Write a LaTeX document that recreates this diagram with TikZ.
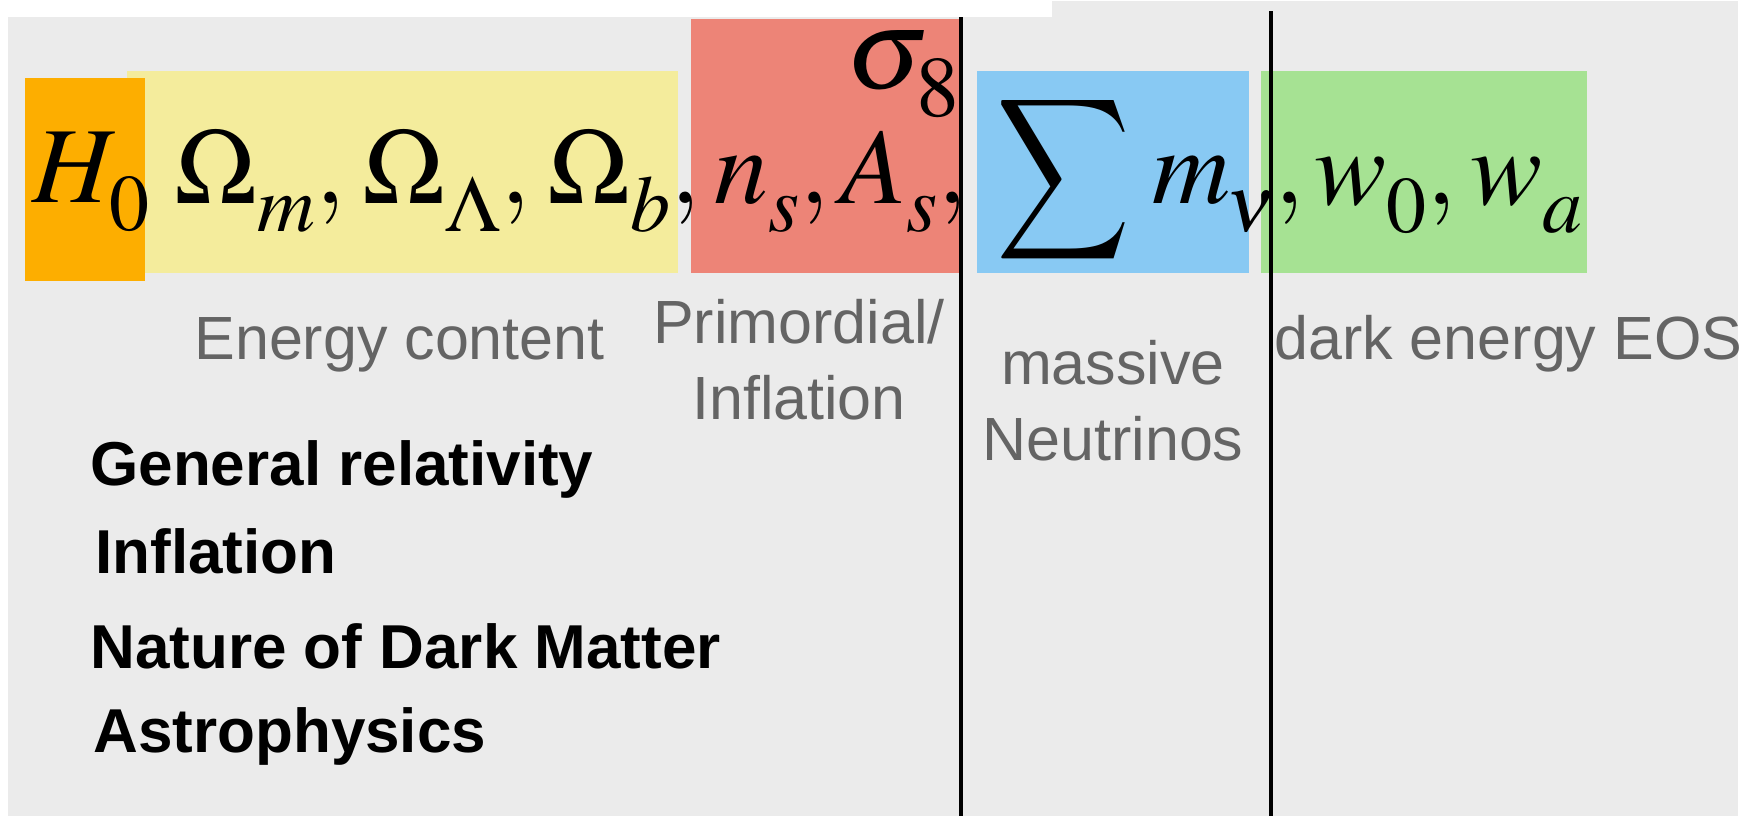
\documentclass[tikz,border=0pt]{standalone}
\usepackage{mathptmx}
\usepackage[no-math]{fontspec}
\usepackage{graphicx}
\newfontfamily\labelfont{Liberation Sans}

\definecolor{bgGray}{HTML}{EBEBEB}
\definecolor{hubbleOrange}{HTML}{FDAE00}
\definecolor{energyYellow}{HTML}{F4EC9C}
\definecolor{primRed}{HTML}{ED8477}
\definecolor{nuBlue}{HTML}{88C9F3}
\definecolor{deGreen}{HTML}{A6E293}
\definecolor{labelGray}{HTML}{646464}

% subscript set lower than TeX puts it
\newcommand{\lowsub}[1]{\raisebox{-14pt}{$\scriptstyle #1$}}

\begin{document}
\begin{tikzpicture}[x=0.5pt,y=-0.5pt,
    param/.style={anchor=base west, inner sep=0pt, font=\fontsize{54}{60}\selectfont},
    grouplabel/.style={inner sep=0pt, align=center, text=labelGray, font=\labelfont\fontsize{30.5}{38}\selectfont},
    topic/.style={anchor=base west, inner sep=0pt, font=\labelfont\bfseries\fontsize{31}{38}\selectfont}]
    \useasboundingbox (0,0) rectangle (1747,816);

    % Background
    \fill[bgGray] (8,17) rectangle (1738,816);
    \fill[bgGray] (1052,1) rectangle (1738,17);

    % Parameter groups
    \fill[energyYellow] (127,71) rectangle (678,273);
    \fill[primRed] (691,19) rectangle (959,273);
    \fill[nuBlue] (977,71) rectangle (1249,273);
    \fill[deGreen] (1261,71) rectangle (1587,273);
    \fill[hubbleOrange] (25,78) rectangle (145,281);

    % Dividers
    \draw[line width=2pt] (960.5,17) -- (960.5,816);
    \draw[line width=2pt] (1270.5,11) -- (1270.5,816);

    % Parameters
    \node[param] (hubble) at (32,202) {$H\kern-4pt\lowsub{0}$};
    \node[param] (omegam) at (174,203) {$\Omega\lowsub{m},$};
    \node[param] (omegal) at (362,203) {$\Omega\lowsub{\Lambda},$};
    \node[param] (omegab) at (547,203) {$\Omega\lowsub{b},$};
    \node[param] (nsind) at (714,203) {$n\lowsub{s},$};
    \node[param] (ampl) at (840,203) {$A\lowsub{s},$};
    \node[param, font=\fontsize{58}{60}\selectfont] (sigma) at (846,88) {$\sigma\kern-6pt\lowsub{8}$};
    \node[inner sep=0pt] (nusum) at (1064,179.5)
        {\resizebox*{67pt}{90.5pt}{\usefont{OMX}{cmex}{m}{n}\symbol{"58}}};
    \node[param] (numass) at (1152,203) {$m\kern-2pt\lowsub{\nu},$};
    \node[param] (wzero) at (1314,204) {$w\lowsub{0},$};
    \node[param] (wa) at (1470,204) {$w\lowsub{a}$};

    % Group labels
    \node[grouplabel, anchor=base west] (energy) at (194,359) {Energy content};
    \node[grouplabel, anchor=base] (primordial) at (799,419) {Primordial/\\Inflation};
    \node[grouplabel, anchor=base] (neutrinos) at (1113,460) {massive\\Neutrinos};
    \node[grouplabel, anchor=base west] (darkenergy) at (1274,359) {dark energy EOS};

    % Physics questions
    \node[topic] (gr) at (90,485) {General relativity};
    \node[topic] (inflation) at (95,573) {Inflation};
    \node[topic] (darkmatter) at (90,668) {Nature of Dark Matter};
    \node[topic] (astro) at (93,752) {Astrophysics};
\end{tikzpicture}
\end{document}
